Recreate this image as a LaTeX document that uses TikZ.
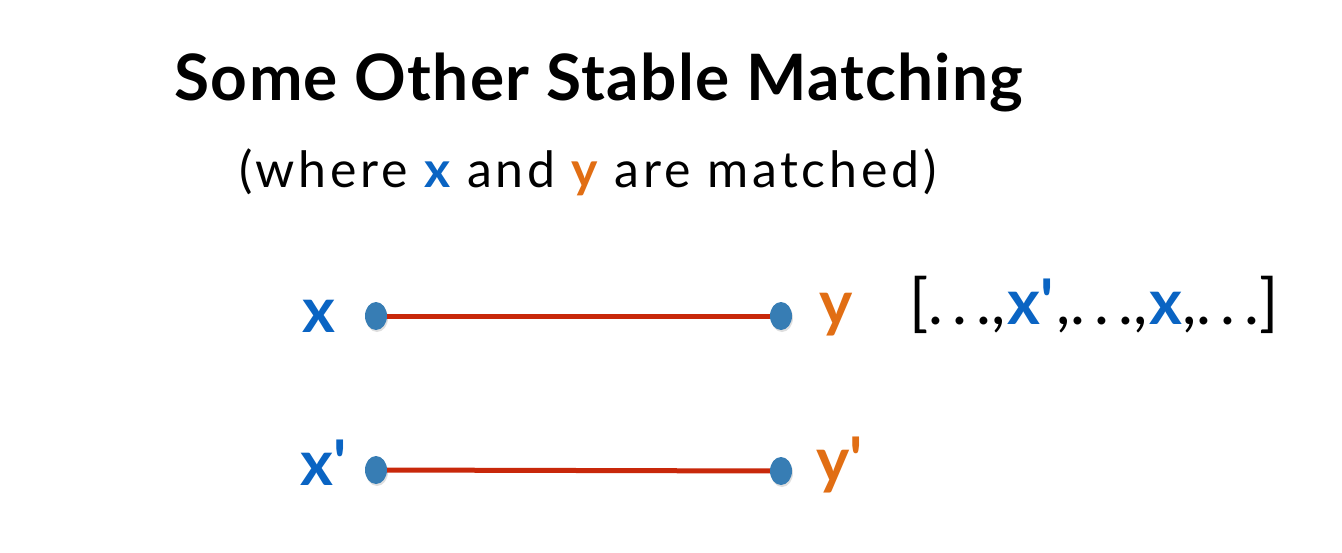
\documentclass[tikz,border=0pt]{standalone}
\usepackage{fontspec}
\setmainfont{Lato}[Ligatures=TeXOff]
\usetikzlibrary{shapes.geometric,shadows}
\definecolor{xblue}{RGB}{10,100,195}
\definecolor{yorange}{RGB}{225,110,20}
\definecolor{lred}{RGB}{200,40,10}
\definecolor{dotblue}{RGB}{55,125,180}
\newcommand{\mydots}{.\kern9pt.\kern9pt.}
\tikzset{
  dot/.style={ellipse,fill=dotblue,minimum width=22pt,minimum height=28pt,inner sep=0pt,
    drop shadow={opacity=0.25,shadow xshift=1pt,shadow yshift=-2pt}},
  matchline/.style={draw=lred,line width=5pt},
  lab/.style={anchor=base,inner sep=0pt,font=\fontsize{63}{70}\selectfont\bfseries},
  xlab/.style={lab,text=xblue},
  ylab/.style={lab,text=yorange},
}
\begin{document}
\begin{tikzpicture}[x=1pt,y=1pt]
\useasboundingbox (0,0) rectangle (1342,-552);
\node[anchor=base,inner sep=0pt,font=\fontsize{64}{70}\selectfont\bfseries\addfontfeature{LetterSpace=2}] (title) at (599,-100) {Some Other Stable Matching};
\node[anchor=base,inner sep=0pt,font=\fontsize{50}{56}\selectfont\addfontfeature{LetterSpace=7.5}] (sub) at (588,-187) {(where \textcolor{xblue}{\bfseries x} and \textcolor{yorange}{\bfseries y} are matched)};
\node[dot] (a1) at (376,-316) {};
\node[dot] (b1) at (781,-316) {};
\node[dot] (a2) at (376,-470) {};
\node[dot] (b2) at (781,-471) {};
\draw[matchline] (a1) -- (b1);
\draw[matchline] (a2) -- (b2);
\node[xlab] (lx) at (319,-332) {x};
\node[ylab] (ly) at (836,-325) {y};
\node[xlab] (lx2) at (324,-485) {x'};
\node[ylab] (ly2) at (840,-482) {y'};
\node[anchor=base,inner sep=0pt,font=\fontsize{63}{70}\selectfont] (pref) at (1094,-324) {[\mydots,\kern2pt\textcolor{xblue}{\bfseries x'}\kern3pt,\mydots,\kern2pt\textcolor{xblue}{\bfseries x},\mydots]};
\end{tikzpicture}
\end{document}
